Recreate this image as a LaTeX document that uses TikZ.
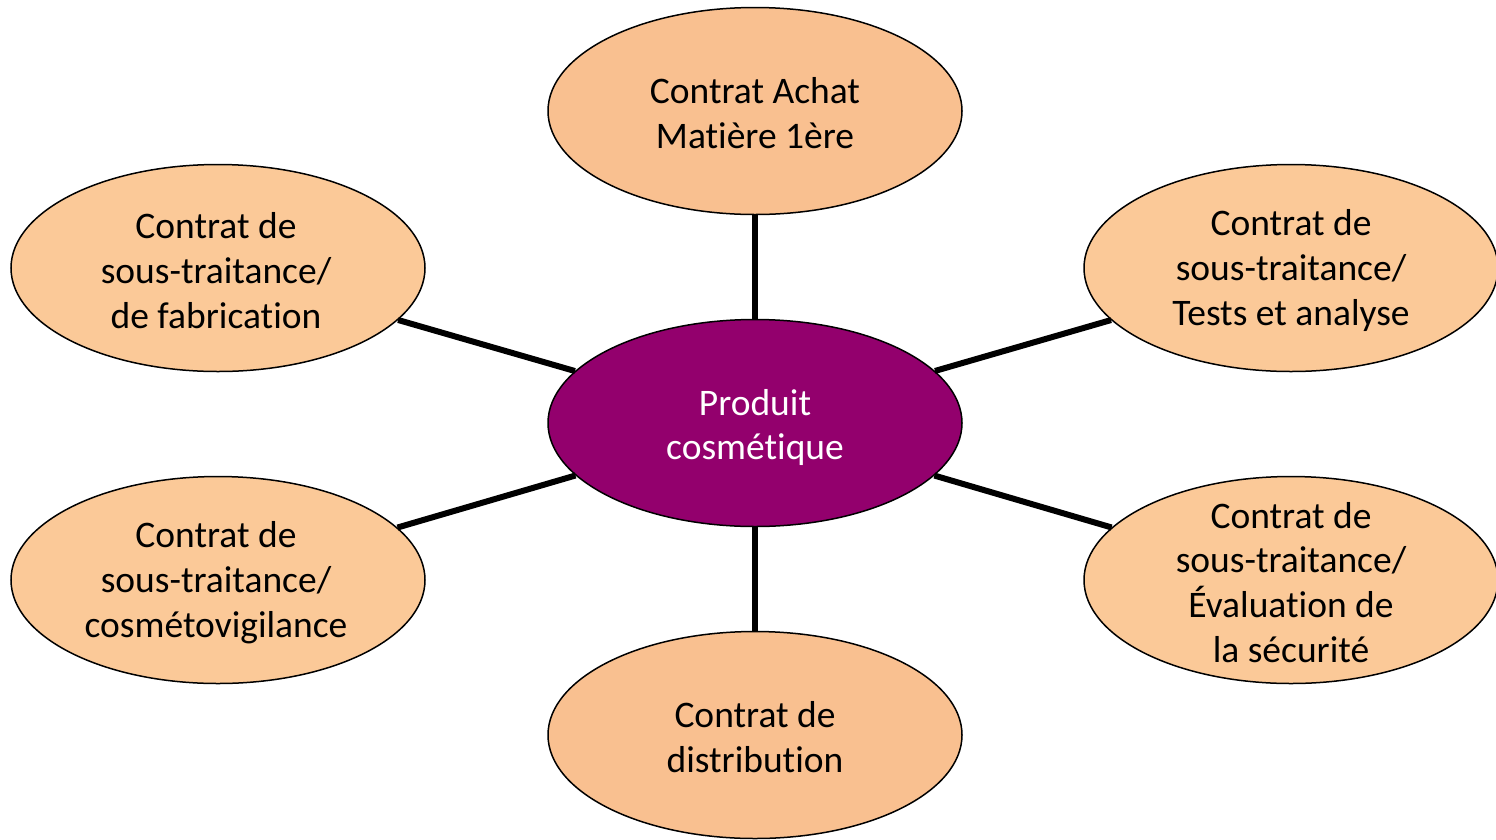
\documentclass[tikz,border=0pt]{standalone}
\usepackage{fontspec}
\setmainfont[Ligatures={NoCommon}]{Carlito}
\usetikzlibrary{shapes.geometric}
\definecolor{peach}{HTML}{FBC998}
\definecolor{peachdark}{HTML}{F9C090}
\definecolor{plum}{HTML}{93006D}
\tikzset{
  oval/.style={ellipse, draw=black, line width=1.5pt, inner sep=0pt,
    minimum width=414pt, minimum height=207pt},
  txt/.style={align=center, yshift=-2.5pt, font=\fontsize{37.5}{44.8}\selectfont},
  link/.style={line width=6pt, draw=black}
}
\begin{document}
\begin{tikzpicture}[x=1pt,y=-1pt]
\useasboundingbox (0,0) rectangle (1496,839);
\node[oval, fill=plum, label={[txt, text=white, yshift=-2pt]center:Produit\\cosmétique}] (c) at (755,423) {};
\node[oval, fill=peachdark, label={[txt]center:Contrat Achat\\Matière 1ère}] (t) at (755,111) {};
\node[oval, fill=peachdark, label={[txt]center:Contrat de\\distribution}] (b) at (755,735) {};
\node[oval, fill=peach, label={[txt, xshift=-2pt]center:Contrat de\\sous-traitance/\\de fabrication}] (lt) at (218,268) {};
\node[oval, fill=peach, label={[txt, xshift=-2pt]center:Contrat de\\sous-traitance/\\cosmétovigilance}] (lb) at (218,580) {};
\node[oval, fill=peach, label={[txt]center:Contrat de\\sous-traitance/\\Tests et analyse}] (rt) at (1291,268) {};
\node[oval, fill=peach, label={[txt]center:Contrat de\\sous-traitance/\\Évaluation de\\la sécurité}] (rb) at (1291,580) {};
\draw[link] (c) -- (t);
\draw[link] (c) -- (b);
\draw[link] (c) -- (lt);
\draw[link] (c) -- (lb);
\draw[link] (c) -- (rt);
\draw[link] (c) -- (rb);
\end{tikzpicture}
\end{document}
